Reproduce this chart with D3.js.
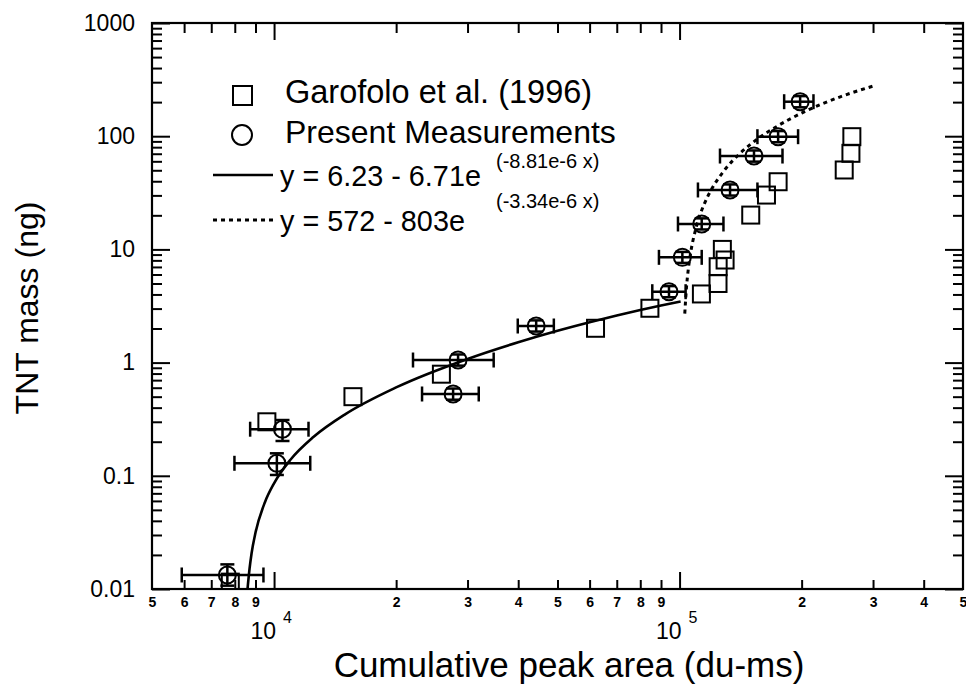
<!DOCTYPE html>
<html>
<head>
<meta charset="utf-8">
<script src="https://cdn.jsdelivr.net/npm/d3@7"></script>
<style>
  body { margin: 0; background: #fff; }
  svg { font-family: Arial, "Liberation Sans", Helvetica, sans-serif; }
</style>
</head>
<body>
<svg id="chart" width="966" height="684"></svg>
<script>
// Garofolo et al. (1996) squares
const garofoloX = [7800, 9600, 15650, 25860, 62050, 84500, 113200, 124400, 124500, 129500, 127500, 149800, 163800, 175000, 254700, 264600, 266000];
const garofoloY = [0.0115, 0.30, 0.50, 0.79, 2.01, 3.02, 4.04, 5.0, 7.03, 8.06, 10.0, 20.1, 30.2, 39.6, 50.3, 70.6, 99];

// present measurements, with error bars
const presentX   = [7670, 10490, 10160, 27640, 28430, 44300, 94170, 101600, 113400, 133200, 152600, 175000, 198300];
const presentY   = [0.0133, 0.258, 0.129, 0.528, 1.054, 2.105, 4.23, 8.51, 16.77, 33.5, 66.8, 99.0, 201.7];
const presentXLo = [5920, 8730, 7985, 23170, 22010, 39900, 85650, 88950, 99100, 111000, 125800, 155600, 181100];
const presentXHi = [9415, 12160, 12280, 31970, 34800, 48970, 103500, 113400, 128300, 155600, 179400, 196000, 213900];
const presentYLo = [0.0107, 0.203, 0.1017, 0.47, 0.94, 1.88, 3.78, 7.6, 15.0, 29.9, 59.6, 88.4, 180];
const presentYHi = [0.0165, 0.311, 0.158, 0.59, 1.18, 2.36, 4.74, 9.5, 18.8, 37.5, 74.8, 111, 226];

// fit curves
const fitSolidX = [8600, 8700, 8800, 9000, 9500, 10000, 11000, 12500, 15000, 20000, 30000, 40000, 50000, 60000, 70000, 80000, 90000, 100600];
const fitSolidY = [0.0100, 0.0151, 0.0206, 0.0315, 0.0587, 0.0858, 0.140, 0.220, 0.351, 0.604, 1.078, 1.513, 1.911, 2.275, 2.608, 2.914, 3.19, 3.46];
const fitDotX = [103000, 104000, 105000, 106000, 110000, 115000, 120000, 130000, 140000, 150000, 175000, 200000, 250000, 300000];
const fitDotY = [2.71, 4.61, 6.52, 8.39, 15.9, 25.1, 34.1, 51.8, 68.9, 85.4, 124, 160, 224, 277];

// ticks
const xMajor = [1e4, 1e5];
const xMinor = [6000, 7000, 8000, 9000, 20000, 30000, 40000, 50000, 60000, 70000, 80000, 90000, 200000, 300000, 400000];
const xLabelValues = [5000, 6000, 7000, 8000, 9000, 20000, 30000, 40000, 50000, 60000, 70000, 80000, 90000, 200000, 300000, 400000, 500000];
const xLabels = ["5", "6", "7", "8", "9", "2", "3", "4", "5", "6", "7", "8", "9", "2", "3", "4", "5"];
const xDecades = [1e4, 1e5];
const xDecadeExp = ["4", "5"];
const yLabelValues = [0.01, 0.1, 1, 10, 100, 1000];
const yLabels = ["0.01", "0.1", "1", "10", "100", "1000"];

const legendLabels = ["Garofolo et al. (1996)", "Present Measurements", "y = 6.23 - 6.71e", "y = 572 - 803e"];
const legendExps = ["(-8.81e-6 x)", "(-3.34e-6 x)"];

const pLeft = 152, pRight = 963, pTop = 23, pBottom = 589;

const svg = d3.select('#chart');

let x = d3.scaleLog().domain([5000, 500000]).range([pLeft, pRight]);
let y = d3.scaleLog().domain([0.01, 1000]).range([pBottom, pTop]);

svg.append('defs').append('clipPath').attr('id', 'plot-clip')
  .append('rect').attr('x', pLeft).attr('y', pTop).attr('width', pRight - pLeft).attr('height', pBottom - pTop);

function drawTicks(axis, vals, len, transform){
  let g = svg.append('g').attr('transform', transform)
    .call(axis.tickValues(vals).tickSize(-len).tickFormat(''));
  g.select('.domain').remove();
  g.selectAll('line').attr('stroke', '#000').attr('stroke-width', 2);
}

// inward ticks on all four sides
drawTicks(d3.axisBottom(x), xMajor, 17, `translate(0,${pBottom})`);
drawTicks(d3.axisBottom(x), xMinor, 9, `translate(0,${pBottom})`);
drawTicks(d3.axisTop(x), xMajor, 17, `translate(0,${pTop})`);
drawTicks(d3.axisTop(x), xMinor, 10, `translate(0,${pTop})`);
let yMinor = [];
yLabelValues.slice(0, -1).forEach(d => { for(let k = 2; k < 10; k++) yMinor.push(d * k); });
drawTicks(d3.axisLeft(y), yLabelValues, 18, `translate(${pLeft},0)`);
drawTicks(d3.axisLeft(y), yMinor, 10, `translate(${pLeft},0)`);
drawTicks(d3.axisRight(y), yLabelValues, 18, `translate(${pRight},0)`);
drawTicks(d3.axisRight(y), yMinor, 10, `translate(${pRight},0)`);

svg.append('rect').attr('x', pLeft).attr('y', pTop).attr('width', pRight - pLeft).attr('height', pBottom - pTop)
  .attr('fill', 'none').attr('stroke', '#000').attr('stroke-width', 2.2);

// tick labels
let yl = svg.append('g').attr('transform', `translate(${pLeft},0)`)
  .call(d3.axisLeft(y).tickValues(yLabelValues).tickFormat((d, i) => yLabels[i]).tickSize(0).tickPadding(17));
yl.select('.domain').remove();
yl.selectAll('text').attr('font-size', 23).attr('font-family', null).attr('fill', '#000');

let xl = svg.append('g').attr('transform', `translate(0,${pBottom})`)
  .call(d3.axisBottom(x).tickValues(xLabelValues).tickFormat((d, i) => xLabels[i]).tickSize(0).tickPadding(8));
xl.select('.domain').remove();
xl.selectAll('text').attr('font-size', 14).attr('font-weight', 'bold').attr('font-family', null).attr('fill', '#000');

xDecades.forEach((d, i) => {
  svg.append('text').attr('x', x(d) + 2).attr('y', 639).attr('text-anchor', 'end')
    .attr('font-size', 23).text('10');
  svg.append('text').attr('x', x(d) + 9).attr('y', 623).attr('font-size', 16).text(xDecadeExp[i]);
});

// axis titles
svg.append('text').attr('x', 569).attr('y', 677).attr('text-anchor', 'middle')
  .attr('font-size', 35).text('Cumulative peak area (du-ms)');
svg.append('text').attr('transform', 'translate(38,308) rotate(-90)').attr('text-anchor', 'middle')
  .attr('font-size', 32).text('TNT mass (ng)');

// fit curves
let line = d3.line().x(d => x(d[0])).y(d => y(d[1])).curve(d3.curveMonotoneX);
let plot = svg.append('g').attr('clip-path', 'url(#plot-clip)');
plot.append('path').datum(fitSolidX.map((d, i) => [d, fitSolidY[i]]))
  .attr('d', line).attr('fill', 'none').attr('stroke', '#000').attr('stroke-width', 2.6);
plot.append('path').datum(fitDotX.map((d, i) => [d, fitDotY[i]]))
  .attr('d', line).attr('fill', 'none').attr('stroke', '#000').attr('stroke-width', 3)
  .attr('stroke-dasharray', '4,4');

// garofolo squares
const sq = 17;
plot.selectAll('rect.garofolo').data(garofoloX).join('rect').classed('garofolo', true)
  .attr('x', d => x(d) - sq / 2).attr('y', (d, i) => y(garofoloY[i]) - sq / 2)
  .attr('width', sq).attr('height', sq)
  .attr('fill', 'none').attr('stroke', '#000').attr('stroke-width', 2);

// present measurements with error bars
let pts = plot.selectAll('g.present').data(presentX).join('g').classed('present', true);
pts.append('line')
  .attr('x1', (d, i) => x(presentXLo[i])).attr('x2', (d, i) => x(presentXHi[i]))
  .attr('y1', (d, i) => y(presentY[i])).attr('y2', (d, i) => y(presentY[i]));
pts.append('line')
  .attr('x1', (d, i) => x(presentXLo[i])).attr('x2', (d, i) => x(presentXLo[i]))
  .attr('y1', (d, i) => y(presentY[i]) - 7.5).attr('y2', (d, i) => y(presentY[i]) + 7.5);
pts.append('line')
  .attr('x1', (d, i) => x(presentXHi[i])).attr('x2', (d, i) => x(presentXHi[i]))
  .attr('y1', (d, i) => y(presentY[i]) - 7.5).attr('y2', (d, i) => y(presentY[i]) + 7.5);
pts.append('line')
  .attr('x1', d => x(d)).attr('x2', d => x(d))
  .attr('y1', (d, i) => y(presentYLo[i])).attr('y2', (d, i) => y(presentYHi[i]));
pts.append('line')
  .attr('x1', d => x(d) - 7).attr('x2', d => x(d) + 7)
  .attr('y1', (d, i) => y(presentYLo[i])).attr('y2', (d, i) => y(presentYLo[i]));
pts.append('line')
  .attr('x1', d => x(d) - 7).attr('x2', d => x(d) + 7)
  .attr('y1', (d, i) => y(presentYHi[i])).attr('y2', (d, i) => y(presentYHi[i]));
pts.selectAll('line').attr('stroke', '#000').attr('stroke-width', 2.5);
pts.append('circle').attr('cx', d => x(d)).attr('cy', (d, i) => y(presentY[i])).attr('r', 8.5)
  .attr('fill', 'none').attr('stroke', '#000').attr('stroke-width', 2);

// legend
let lg = svg.append('g');
lg.append('rect').attr('x', 233).attr('y', 86).attr('width', 19).attr('height', 19)
  .attr('fill', 'none').attr('stroke', '#000').attr('stroke-width', 2);
lg.append('circle').attr('cx', 242).attr('cy', 135).attr('r', 10)
  .attr('fill', 'none').attr('stroke', '#000').attr('stroke-width', 2);
lg.append('line').attr('x1', 213).attr('x2', 273).attr('y1', 175).attr('y2', 175)
  .attr('stroke', '#000').attr('stroke-width', 2.6);
lg.append('line').attr('x1', 213).attr('x2', 273).attr('y1', 220).attr('y2', 220)
  .attr('stroke', '#000').attr('stroke-width', 3).attr('stroke-dasharray', '4,4');
lg.append('text').attr('x', 285).attr('y', 103).attr('font-size', 32.5).text(legendLabels[0]);
lg.append('text').attr('x', 285).attr('y', 143).attr('font-size', 32).text(legendLabels[1]);
lg.append('text').attr('x', 280).attr('y', 186).attr('font-size', 28.8).text(legendLabels[2]);
lg.append('text').attr('x', 280).attr('y', 231).attr('font-size', 28.8).text(legendLabels[3]);
lg.append('text').attr('x', 496).attr('y', 168).attr('font-size', 20).text(legendExps[0]);
lg.append('text').attr('x', 496).attr('y', 208).attr('font-size', 20).text(legendExps[1]);
</script>
</body>
</html>
